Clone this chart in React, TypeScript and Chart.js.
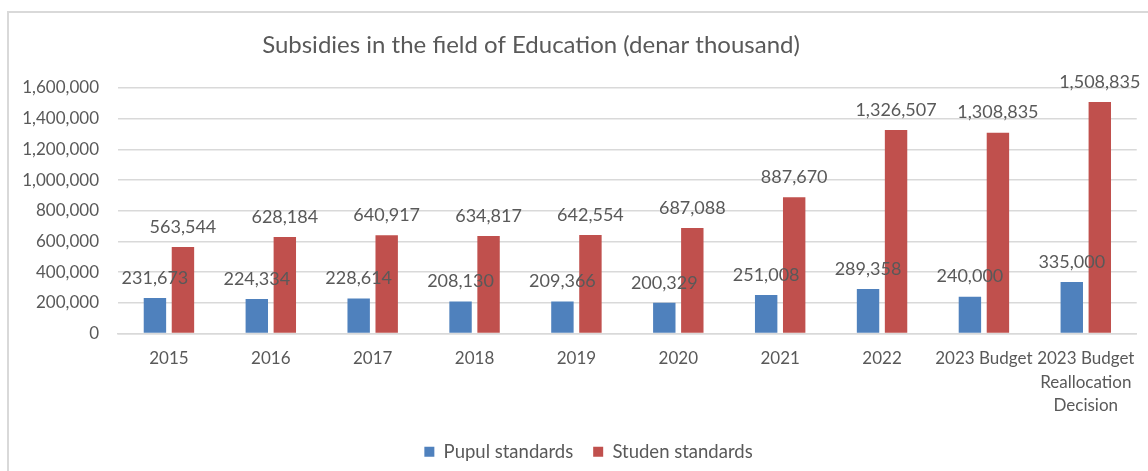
import React, { useEffect, useRef } from "react";
import { Chart, registerables } from "chart.js";

Chart.register(...registerables);

const categories: (string | string[])[] = [
  "2015",
  "2016",
  "2017",
  "2018",
  "2019",
  "2020",
  "2021",
  "2022",
  "2023 Budget",
  ["2023 Budget", "Reallocation", "Decision"],
];
const pupilValues = [231673, 224334, 228614, 208130, 209366, 200329, 251008, 289358, 240000, 335000];
const studentValues = [563544, 628184, 640917, 634817, 642554, 687088, 887670, 1326507, 1308835, 1508835];
const seriesNames = ["Pupul standards", "Studen standards"];
const titleText = "Subsidies in the field of Education (denar thousand)";

const FONT = "Lato, 'Open Sans', sans-serif";
const TEXT = "#595959";
const GRID = "#D9D9D9";

const fmt = (v: number) => v.toLocaleString("en-US");

const framePlugin = {
  id: "frame",
  afterLayout(chart: any) {
    if (chart.legend) {
      chart.legend.left += 20;
      chart.legend.right += 20;
    }
  },
  beforeDraw(chart: any) {
    const ctx = chart.ctx;
    ctx.save();
    ctx.fillStyle = "#ffffff";
    ctx.fillRect(0, 0, chart.width, chart.height);
    ctx.strokeStyle = GRID;
    ctx.lineWidth = 2;
    ctx.strokeRect(8, 12, chart.width + 10, chart.height + 10);
    ctx.restore();
  },
  afterDraw(chart: any) {
    const ctx = chart.ctx;
    ctx.save();
    ctx.fillStyle = TEXT;
    ctx.font = `24px ${FONT}`;
    ctx.textAlign = "center";
    ctx.textBaseline = "middle";
    ctx.fillText(titleText, 531, 45);
    ctx.restore();
  },
};

const labelPlugin = {
  id: "barLabels",
  afterDatasetsDraw(chart: any) {
    const ctx = chart.ctx;
    ctx.save();
    ctx.fillStyle = TEXT;
    ctx.font = `18px ${FONT}`;
    ctx.textAlign = "center";
    ctx.textBaseline = "middle";
    chart.data.datasets.forEach((ds: any, i: number) => {
      const meta = chart.getDatasetMeta(i);
      meta.data.forEach((bar: any, j: number) => {
        ctx.fillText(fmt(ds.data[j]), bar.x, bar.y - 20);
      });
    });
    ctx.restore();
  },
};

export default function App() {
  const ref = useRef<HTMLCanvasElement | null>(null);
  useEffect(() => {
    document.body.style.margin = "0";
    const chart = new Chart(ref.current as HTMLCanvasElement, {
      type: "bar",
      data: {
        labels: categories,
        datasets: [
          {
            label: seriesNames[0],
            data: pupilValues,
            backgroundColor: "#4F81BD",
            categoryPercentage: 0.55,
            barPercentage: 0.8,
          },
          {
            label: seriesNames[1],
            data: studentValues,
            backgroundColor: "#C0504D",
            categoryPercentage: 0.55,
            barPercentage: 0.8,
          },
        ],
      },
      options: {
        responsive: false,
        animation: false,
        devicePixelRatio: 1,
        layout: { padding: { top: 88, right: 11, left: 0, bottom: 0 } },
        plugins: {
          title: { display: false },
          tooltip: { enabled: false },
          legend: {
            position: "bottom",
            labels: {
              boxWidth: 10,
              boxHeight: 10,
              padding: 20,
              color: TEXT,
              font: { family: FONT, size: 18.5 },
            },
          },
        },
        scales: {
          x: {
            grid: { display: false, drawTicks: false },
            border: { display: true, color: GRID, width: 1.5 },
            ticks: {
              color: TEXT,
              font: { family: FONT, size: 17, lineHeight: 1.4 },
              padding: 13,
              maxRotation: 0,
              autoSkip: false,
            },
            afterFit(scale: any) {
              scale.height = 89;
            },
          },
          y: {
            min: 0,
            max: 1600000,
            ticks: {
              stepSize: 200000,
              color: TEXT,
              font: { family: FONT, size: 17 },
              padding: 19,
              callback: (v: any) => fmt(Number(v)),
            },
            grid: { color: GRID, lineWidth: 1.5, drawTicks: false },
            border: { display: false },
            afterFit(scale: any) {
              scale.width = 118;
            },
          },
        },
      },
      plugins: [framePlugin, labelPlugin],
    });
    return () => chart.destroy();
  }, []);
  return (
    <div style={{ width: 1148, height: 471 }}>
      <canvas ref={ref} width={1148} height={471} />
    </div>
  );
}
